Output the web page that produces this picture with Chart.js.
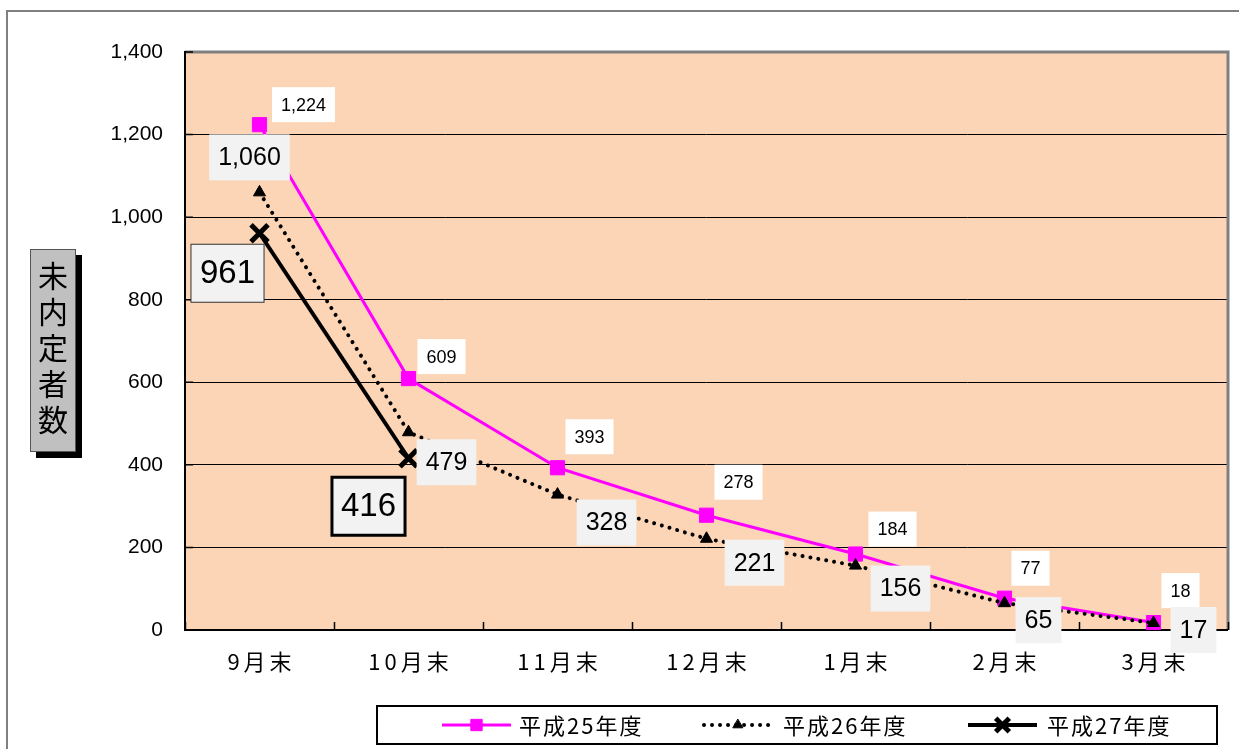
<!DOCTYPE html>
<html lang="ja">
<head>
<meta charset="UTF-8">
<title>未内定者数</title>
<script src="https://cdn.jsdelivr.net/npm/chart.js"></script>
<style>
    body { margin: 0; background: #fff; overflow: hidden; }
    .frame { position: absolute; left: 6px; top: 10px; width: 1400px; height: 900px; border-top: 2px solid #808080; border-left: 2px solid #808080; }
    .wrap { position: absolute; left: 0; top: 0; width: 1239px; height: 749px; }
    .ytitle {
        position: absolute; left: 30px; top: 249px; width: 44px; height: 201px;
        background: #c0c0c0; border: 1px solid #555; box-shadow: 6px 6px 0 #000;
        font-family: "Noto Sans CJK JP"; font-size: 30px; color: #000;
        writing-mode: vertical-rl; text-orientation: upright; line-height: 44px;
        text-align: center; letter-spacing: 6px;
    }
</style>
</head>
<body>
<div class="frame"></div>
<div class="wrap"><canvas id="myChart"></canvas></div>
<div class="ytitle">未内定者数</div>
<script>
    const categories = ['9月末', '10月末', '11月末', '12月末', '1月末', '2月末', '3月末'];
    const seriesNames = ['平成25年度', '平成26年度', '平成27年度'];
    const h25 = [1224, 609, 393, 278, 184, 77, 18];
    const h26 = [1060, 479, 328, 221, 156, 65, 17];
    const h27 = [961, 416, null, null, null, null, null];
    const yTicks = [0, 200, 400, 600, 800, 1000, 1200, 1400];

    // data label boxes (center offset from the point, per point)
    const labelStyle = [
        { bg: '#ffffff', size: 18, h: 35, bw: [0, 0, 0, 0, 0, 0, 0],
          off: [[44, -20], [33, -22], [32, -31], [32, -33], [37, -25], [26, -30], [27, -32]] },
        { bg: '#f2f2f2', size: 25, h: 46, bw: [0, 0, 0, 0, 0, 0, 0],
          off: [[-10, -35], [38, 30], [49, 28], [48, 24], [45, 23], [34, 17], [40, 7]] },
        { bg: '#f2f2f2', size: 33, h: 58, bw: [1, 3],
          off: [[-32, 40], [-40, 48]] }
    ];

    const numFont = '"Liberation Sans", Arial, sans-serif';
    const jpFont = '"Noto Sans CJK JP", sans-serif';

    function spacedText(ctx, text, x, y, spacing) {
        // draws text centred on x with extra spacing between characters
        let w = 0;
        const widths = [];
        for (const ch of text) { const cw = ctx.measureText(ch).width; widths.push(cw); w += cw; }
        w += spacing * (widths.length - 1);
        let cx = x - w / 2;
        let i = 0;
        ctx.textAlign = 'left';
        for (const ch of text) { ctx.fillText(ch, cx, y); cx += widths[i++] + spacing; }
    }

    const chartPlugin = {
        id: 'excelLook',
        beforeDraw(chart) {
            const a = chart.chartArea, ctx = chart.ctx;
            ctx.save();
            ctx.fillStyle = '#fbd5b5';
            ctx.fillRect(a.left, a.top, a.right - a.left, a.bottom - a.top);
            ctx.restore();
        },
        beforeDatasetsDraw(chart) {
            const a = chart.chartArea, ctx = chart.ctx;
            const xs = chart.scales.x, ys = chart.scales.y;
            ctx.save();
            // gray top / right border
            ctx.strokeStyle = '#808080';
            ctx.lineWidth = 3;
            ctx.beginPath();
            ctx.moveTo(a.left, a.top); ctx.lineTo(a.right, a.top); ctx.lineTo(a.right, a.bottom);
            ctx.stroke();
            // black axes
            ctx.strokeStyle = '#000';
            ctx.lineWidth = 2;
            ctx.beginPath();
            ctx.moveTo(a.left, a.top - 1); ctx.lineTo(a.left, a.bottom); ctx.lineTo(a.right, a.bottom);
            ctx.stroke();
            // inner tick marks
            ctx.lineWidth = 1.5;
            ctx.beginPath();
            for (let i = 0; i <= categories.length; i++) {
                const px = Math.round(xs.getPixelForValue(i - 0.5)) + 0.5;
                ctx.moveTo(px, a.bottom); ctx.lineTo(px, a.bottom - 8);
            }
            yTicks.forEach(v => {
                const py = ys.getPixelForValue(v);
                ctx.moveTo(a.left, py); ctx.lineTo(a.left + 8, py);
            });
            ctx.stroke();
            // category labels
            ctx.fillStyle = '#000';
            ctx.font = '22px ' + jpFont;
            ctx.textBaseline = 'middle';
            categories.forEach((c, i) => spacedText(ctx, c, xs.getPixelForValue(i), 662, 4));
            ctx.restore();
        },
        afterDatasetsDraw(chart) {
            const ctx = chart.ctx;
            ctx.save();
            [h25, h26, h27].forEach((vals, s) => {
                const st = labelStyle[s];
                const meta = chart.getDatasetMeta(s);
                vals.forEach((v, j) => {
                    if (v === null) return;
                    const p = meta.data[j];
                    const cx = p.x + st.off[j][0], cy = p.y + st.off[j][1];
                    const txt = v.toLocaleString('en-US');
                    ctx.font = st.size + 'px ' + numFont;
                    const w = ctx.measureText(txt).width + 18;
                    ctx.fillStyle = st.bg;
                    ctx.fillRect(cx - w / 2, cy - st.h / 2, w, st.h);
                    if (st.bw[j]) {
                        ctx.lineWidth = st.bw[j];
                        ctx.strokeStyle = st.bw[j] > 1 ? '#000' : '#333';
                        ctx.strokeRect(cx - w / 2, cy - st.h / 2, w, st.h);
                    }
                    ctx.fillStyle = '#000';
                    ctx.textAlign = 'center';
                    ctx.textBaseline = 'middle';
                    ctx.fillText(txt, cx, cy + 1);
                });
            });
            ctx.restore();
        },
        afterDraw(chart) {
            const ctx = chart.ctx;
            ctx.save();
            // legend box
            ctx.fillStyle = '#fff';
            ctx.fillRect(377, 706, 840, 38);
            ctx.strokeStyle = '#000';
            ctx.lineWidth = 2;
            ctx.strokeRect(377, 706, 840, 38);
            const ly = 725;
            const items = [
                { x1: 442, x2: 511, tx: 519 },
                { x1: 704, x2: 772, tx: 783 },
                { x1: 968, x2: 1037, tx: 1047 }
            ];
            items.forEach((it, i) => {
                const ds = chart.data.datasets[i];
                ctx.save();
                ctx.strokeStyle = ds.borderColor;
                ctx.lineWidth = ds.borderWidth;
                ctx.lineCap = ds.borderCapStyle || 'butt';
                ctx.setLineDash(ds.borderDash || []);
                ctx.beginPath();
                ctx.moveTo(it.x1, ly); ctx.lineTo(it.x2, ly);
                ctx.stroke();
                ctx.setLineDash([]);
                ctx.fillStyle = ds.pointBackgroundColor;
                ctx.strokeStyle = ds.pointBorderColor;
                ctx.lineWidth = ds.pointBorderWidth;
                Chart.helpers.drawPoint(ctx, {
                    pointStyle: ds.pointStyle, radius: ds.pointRadius * 0.8,
                    rotation: 0, borderWidth: ds.pointBorderWidth
                }, (it.x1 + it.x2) / 2, ly);
                ctx.restore();
                ctx.fillStyle = '#000';
                ctx.font = '22px ' + jpFont;
                ctx.textBaseline = 'middle';
                const tw = ctx.measureText(seriesNames[i]).width + 2 * 5;
                spacedText(ctx, seriesNames[i], it.tx + tw / 2, ly + 1, 2);
            });
            ctx.restore();
        }
    };

    const config = {
        type: 'line',
        data: {
            labels: categories,
            datasets: [
                {
                    label: seriesNames[0], data: h25, order: 3,
                    borderColor: '#ff00ff', borderWidth: 3,
                    pointStyle: 'rect', pointRadius: 10, pointBorderWidth: 1,
                    pointBackgroundColor: '#ff00ff', pointBorderColor: '#ff00ff'
                },
                {
                    label: seriesNames[1], data: h26, order: 2,
                    borderColor: '#000', borderWidth: 4,
                    borderDash: [0.01, 8], borderCapStyle: 'round',
                    pointStyle: 'triangle', pointRadius: 7, pointBorderWidth: 1,
                    pointBackgroundColor: '#000', pointBorderColor: '#000'
                },
                {
                    label: seriesNames[2], data: h27, order: 1,
                    borderColor: '#000', borderWidth: 4,
                    pointStyle: 'crossRot', pointRadius: 12, pointBorderWidth: 5,
                    pointBackgroundColor: '#000', pointBorderColor: '#000'
                }
            ]
        },
        options: {
            responsive: true,
            maintainAspectRatio: false,
            animation: false,
            locale: 'en-US',
            layout: { autoPadding: false, padding: { left: 0, top: 52, right: 11, bottom: 0 } },
            plugins: {
                legend: { display: false },
                tooltip: { enabled: false }
            },
            scales: {
                x: {
                    offset: true,
                    grid: { display: false },
                    border: { display: false },
                    ticks: { display: false },
                    afterFit(scale) { scale.height = 119; }
                },
                y: {
                    min: 0,
                    max: 1400,
                    afterBuildTicks(scale) { scale.ticks = yTicks.map(v => ({ value: v })); },
                    grid: { color: '#000', lineWidth: 1, drawTicks: false },
                    border: { display: false },
                    ticks: {
                        padding: 22,
                        color: '#000',
                        font: { family: numFont, size: 21 }
                    },
                    afterFit(scale) { scale.width = 185; }
                }
            }
        },
        plugins: [chartPlugin]
    };

    const myChart = new Chart(document.getElementById('myChart'), config);
</script>
</body>
</html>
